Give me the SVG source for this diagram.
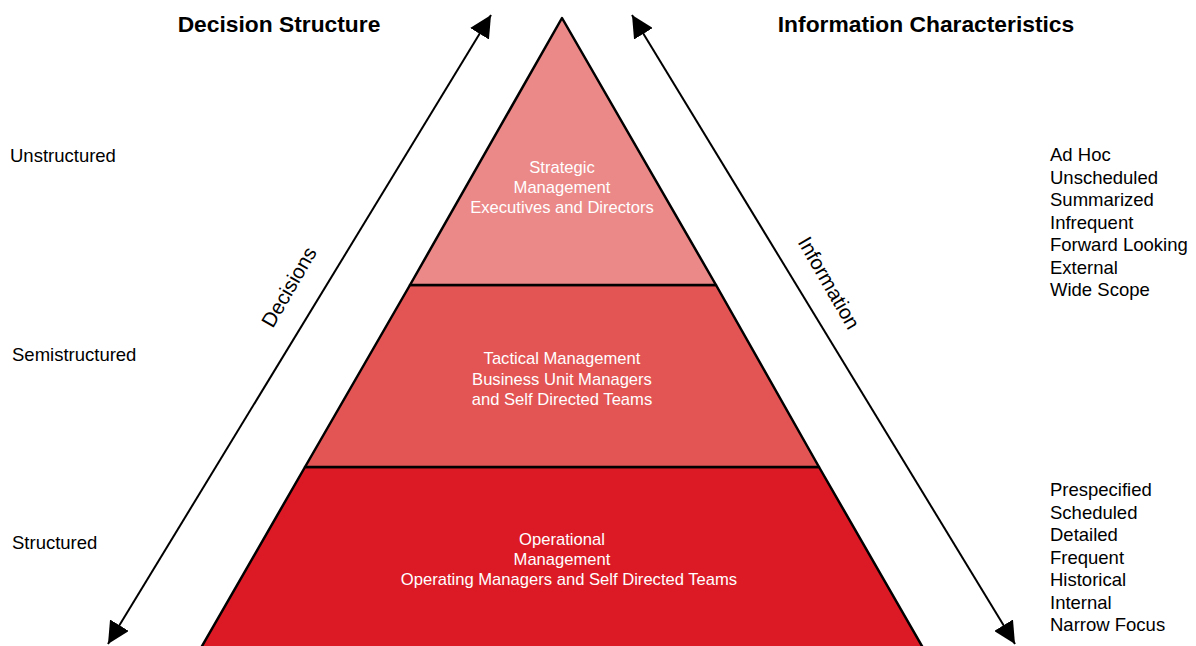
<svg xmlns="http://www.w3.org/2000/svg" width="1196" height="646" viewBox="0 0 1196 646">
<style>
text{font-family:"Liberation Sans",Arial,sans-serif;fill:#000}
.h{font-size:22.8px;font-weight:bold}
.l{font-size:18.5px}
.ax-l{font-size:20.5px;text-anchor:middle}
.in{font-size:16.6px;fill:#fff;text-anchor:middle}
.ax{stroke:#000;stroke-width:2;fill:none}
.tier{stroke:#000;stroke-width:2.5;stroke-linejoin:round}
</style>
<defs>
<marker id="big" viewBox="0 0 20 20" refX="20" refY="10" markerWidth="22" markerHeight="22" markerUnits="userSpaceOnUse" orient="auto-start-reverse">
<path d="M0,0 L20,10 L0,20 z" fill="#000"/>
</marker>
</defs>
<rect width="1196" height="646" fill="#fff"/>
<g id="tier-operational">
<polygon class="tier" points="305,467 819,467 930,660 194,660" fill="#DC1A26"/>
<text class="in" x="562" y="545">Operational</text>
<text class="in" x="562" y="565">Management</text>
<text class="in" x="569" y="585">Operating Managers and Self Directed Teams</text>
</g>
<g id="tier-tactical">
<polygon class="tier" points="410,285 716,285 819,467 305,467" fill="#E35454"/>
<text class="in" x="562" y="364">Tactical Management</text>
<text class="in" x="562" y="385">Business Unit Managers</text>
<text class="in" x="562" y="405">and Self Directed Teams</text>
</g>
<g id="tier-strategic">
<polygon class="tier" points="562,18 716,285 410,285" fill="#EB8888"/>
<text class="in" x="562" y="173">Strategic</text>
<text class="in" x="562" y="193">Management</text>
<text class="in" x="562" y="213">Executives and Directors</text>
</g>
<g id="connectors">
<line class="ax" x1="108" y1="644" x2="491" y2="15" marker-start="url(#big)" marker-end="url(#big)"/>
<line class="ax" x1="632" y1="15" x2="1015" y2="644" marker-start="url(#big)" marker-end="url(#big)"/>
</g>
<g id="axis-labels">
<text class="ax-l" x="289" y="294" transform="rotate(-60 289 287)">Decisions</text>
<text class="ax-l" x="829" y="290" transform="rotate(60 829 283)">Information</text>
</g>
<g id="headers">
<text class="h" x="279" y="32" text-anchor="middle">Decision Structure</text>
<text class="h" x="926" y="32" text-anchor="middle">Information Characteristics</text>
</g>
<g id="decision-levels">
<text class="l" x="10" y="162">Unstructured</text>
<text class="l" x="12" y="361">Semistructured</text>
<text class="l" x="12" y="549">Structured</text>
</g>
<g id="info-top">
<text class="l" x="1050" y="161">Ad Hoc</text>
<text class="l" x="1050" y="184">Unscheduled</text>
<text class="l" x="1050" y="206">Summarized</text>
<text class="l" x="1050" y="229">Infrequent</text>
<text class="l" x="1050" y="251">Forward Looking</text>
<text class="l" x="1050" y="274">External</text>
<text class="l" x="1050" y="296">Wide Scope</text>
</g>
<g id="info-bottom">
<text class="l" x="1050" y="496">Prespecified</text>
<text class="l" x="1050" y="519">Scheduled</text>
<text class="l" x="1050" y="541">Detailed</text>
<text class="l" x="1050" y="564">Frequent</text>
<text class="l" x="1050" y="586">Historical</text>
<text class="l" x="1050" y="609">Internal</text>
<text class="l" x="1050" y="631">Narrow Focus</text>
</g>
</svg>
